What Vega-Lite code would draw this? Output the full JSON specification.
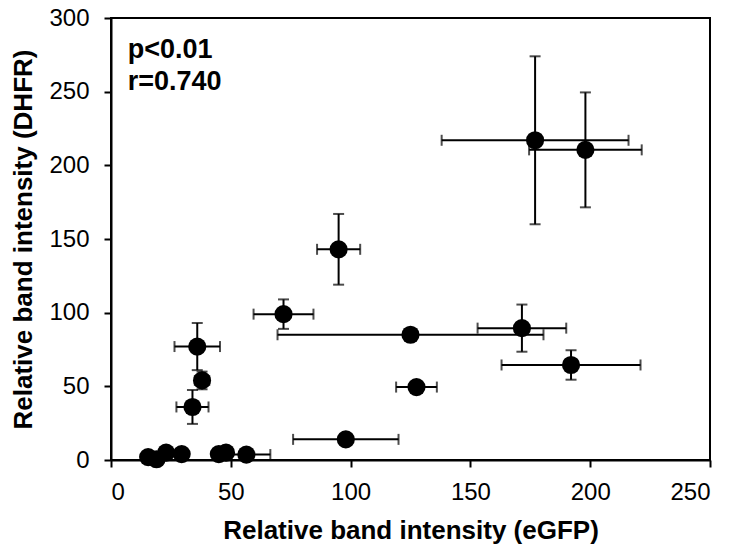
{
  "$schema": "https://vega.github.io/schema/vega-lite/v6.json",
  "width": 599,
  "height": 442,
  "autosize": {"type": "none"},
  "padding": {"left": 111, "top": 18, "right": 23, "bottom": 85},
  "background": "white",
  "config": {
    "view": {"stroke": "black", "strokeWidth": 2},
    "font": "Liberation Sans",
    "axis": {
      "grid": false,
      "domainColor": "black",
      "domainWidth": 2,
      "tickColor": "black",
      "tickWidth": 2,
      "tickSize": 7,
      "labelFont": "Liberation Sans",
      "labelFontSize": 24,
      "labelColor": "black",
      "titleFont": "Liberation Sans",
      "titleFontSize": 26,
      "titleFontWeight": "bold",
      "titleColor": "black"
    },
    "axisX": {"labelPadding": 13, "titleY": 57, "titleBaseline": "top"},
    "axisY": {"labelPadding": 15, "titleX": -88, "titleBaseline": "middle"}
  },
  "datasets": {
    "pts": [
      {"x": 177, "y": 217, "xe": 39, "ye": 57},
      {"x": 198, "y": 210.5, "xe": 23.5, "ye": 39},
      {"x": 95, "y": 143, "xe": 9, "ye": 24},
      {"x": 72, "y": 99, "xe": 12.5, "ye": 10},
      {"x": 125, "y": 85, "xe": 55.5, "ye": 3},
      {"x": 171.5, "y": 89.5, "xe": 18.5, "ye": 16},
      {"x": 192, "y": 64.5, "xe": 29, "ye": 10},
      {"x": 127.5, "y": 49.5, "xe": 8.5, "ye": 2},
      {"x": 98, "y": 14, "xe": 22, "ye": 2},
      {"x": 56.5, "y": 3.7, "xe": 10, "ye": 1},
      {"x": 36, "y": 77, "xe": 9.5, "ye": 16},
      {"x": 38, "y": 54, "xe": 3, "ye": 6},
      {"x": 34, "y": 36, "xe": 6.7, "ye": 11.5},
      {"x": 15.5, "y": 2, "xe": 1, "ye": 1},
      {"x": 19, "y": 0.5, "xe": 1, "ye": 1},
      {"x": 23, "y": 5, "xe": 1, "ye": 1},
      {"x": 29.5, "y": 4, "xe": 1, "ye": 1},
      {"x": 45, "y": 4, "xe": 1, "ye": 1},
      {"x": 48, "y": 5, "xe": 1, "ye": 1}
    ],
    "notes": [
      {"x": 7, "y": 273, "label": "p<0.01"},
      {"x": 7, "y": 251, "label": "r=0.740"}
    ]
  },
  "layer": [
    {
      "data": {"name": "pts"},
      "mark": {"type": "errorbar", "color": "black", "thickness": 2, "ticks": {"size": 11, "thickness": 2, "color": "black"}, "rule": {"strokeWidth": 2, "color": "black"}},
      "encoding": {
        "x": {"field": "x", "type": "quantitative", "scale": {"domain": [0, 250], "nice": false}, "axis": {"values": [0, 50, 100, 150, 200, 250]}, "title": "Relative band intensity (eGFP)"},
        "xError": {"field": "xe"},
        "y": {"field": "y", "type": "quantitative", "scale": {"domain": [0, 300], "nice": false}, "axis": {"values": [0, 50, 100, 150, 200, 250, 300]}, "title": "Relative band intensity (DHFR)"}
      }
    },
    {
      "data": {"name": "pts"},
      "mark": {"type": "errorbar", "color": "black", "thickness": 2, "ticks": {"size": 11, "thickness": 2, "color": "black"}, "rule": {"strokeWidth": 2, "color": "black"}},
      "encoding": {
        "x": {"field": "x", "type": "quantitative", "title": "Relative band intensity (eGFP)"},
        "y": {"field": "y", "type": "quantitative", "title": "Relative band intensity (DHFR)"},
        "yError": {"field": "ye"}
      }
    },
    {
      "data": {"name": "pts"},
      "mark": {"type": "circle", "size": 330, "color": "black", "opacity": 1},
      "encoding": {
        "x": {"field": "x", "type": "quantitative", "title": "Relative band intensity (eGFP)"},
        "y": {"field": "y", "type": "quantitative", "title": "Relative band intensity (DHFR)"}
      }
    },
    {
      "data": {"name": "notes"},
      "mark": {"type": "text", "align": "left", "baseline": "alphabetic", "font": "Liberation Sans", "fontSize": 27, "fontWeight": "bold", "color": "black"},
      "encoding": {
        "x": {"field": "x", "type": "quantitative", "title": "Relative band intensity (eGFP)"},
        "y": {"field": "y", "type": "quantitative", "title": "Relative band intensity (DHFR)"},
        "text": {"field": "label"}
      }
    }
  ]
}
